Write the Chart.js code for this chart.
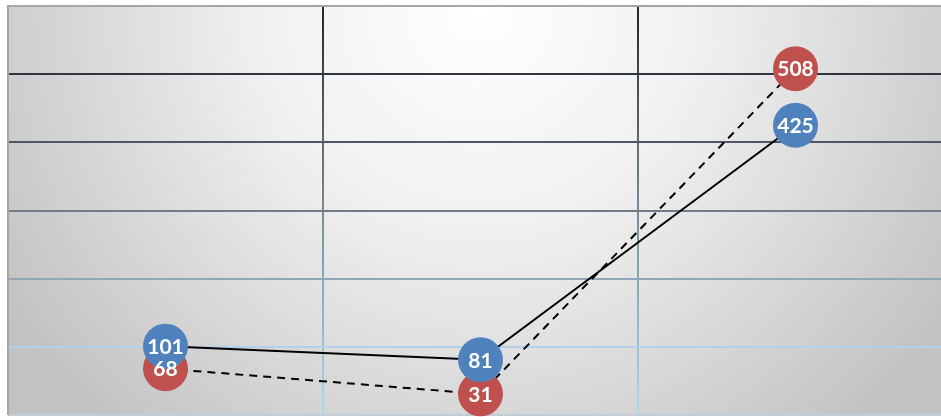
<!DOCTYPE html>
<html>
<head>
<meta charset="utf-8">
<script src="https://cdn.jsdelivr.net/npm/chart.js@4/dist/chart.umd.min.js"></script>
<style>
html,body{margin:0;padding:0;overflow:hidden;background:#ffffff;}
#wrap{position:relative;width:960px;height:417px;}
</style>
</head>
<body>
<div id="wrap"><canvas id="c"></canvas></div>
<script>
const categories = ["Category 1", "Category 2", "Category 3"];
const seriesBlue = [101, 81, 425];
const seriesRed = [68, 31, 508];
const yTicks = [0, 100, 200, 300, 400, 500, 600];

const hGridColors = {0:'#c3cdd8',100:'#b4cfe8',200:'#93a5b8',300:'#6f7d8a',400:'#4d5862',500:'#2e3740',600:'rgba(0,0,0,0)'};

const bgPlugin = {
  id: 'bg',
  beforeDraw(chart) {
    const {ctx, chartArea: a} = chart;
    ctx.save();
    const g = ctx.createRadialGradient(480, 10, 0, 480, 10, 560);
    g.addColorStop(0, '#ffffff');
    g.addColorStop(0.4, '#f0f0f0');
    g.addColorStop(1, '#c2c2c2');
    ctx.fillStyle = g;
    ctx.fillRect(a.left, a.top, a.right - a.left, a.bottom - a.top);
    ctx.restore();
  },
  afterDraw(chart) {
    const {ctx, chartArea: a} = chart;
    ctx.save();
    ctx.lineWidth = 2;
    ctx.strokeStyle = '#a6a6a6';
    ctx.beginPath();
    ctx.moveTo(a.left - 1, a.top);
    ctx.lineTo(a.right + 5, a.top);
    ctx.moveTo(a.left, a.top);
    ctx.lineTo(a.left, a.bottom);
    ctx.stroke();
    ctx.restore();
  }
};

const labelPlugin = {
  id: 'lbl',
  afterDatasetsDraw(chart) {
    const {ctx} = chart;
    ctx.save();
    ctx.fillStyle = '#ffffff';
    ctx.font = 'bold 21px Lato, "Open Sans", sans-serif';
    ctx.textAlign = 'center';
    ctx.textBaseline = 'middle';
    chart.data.datasets.forEach((ds, i) => {
      const meta = chart.getDatasetMeta(i);
      meta.data.forEach((pt, j) => {
        ctx.fillText(String(ds.data[j]), pt.x, pt.y + 1);
      });
    });
    ctx.restore();
  }
};

new Chart(document.getElementById('c'), {
  type: 'line',
  data: {
    labels: categories,
    datasets: [
      {
        label: 'Blue',
        data: seriesBlue,
        borderColor: '#000000',
        borderWidth: 2,
        pointRadius: 22.5,
        pointHoverRadius: 22.5,
        pointBorderWidth: 0,
        pointBackgroundColor: '#4f81bd',
        pointBorderColor: '#4f81bd',
        tension: 0,
        fill: false
      },
      {
        label: 'Red',
        data: seriesRed,
        borderColor: '#000000',
        borderWidth: 2,
        borderDash: [8, 6],
        pointRadius: 22.5,
        pointHoverRadius: 22.5,
        pointBorderWidth: 0,
        pointBackgroundColor: '#c0504d',
        pointBorderColor: '#c0504d',
        tension: 0,
        fill: false
      }
    ]
  },
  options: {
    responsive: true,
    maintainAspectRatio: false,
    animation: false,
    events: [],
    clip: false,
    layout: {autoPadding: false, padding: {left: 8, top: 6, right: 7, bottom: 2}},
    plugins: {legend: {display: false}, tooltip: {enabled: false}},
    scales: {
      x: {
        offset: true,
        ticks: {display: false},
        border: {display: false},
        grid: {
          offset: true,
          drawTicks: false,
          lineWidth: 2,
          color: (ctx) => {
            const chart = ctx.chart;
            const a = chart.chartArea;
            if (!a) return '#556';
            const g = chart.ctx.createLinearGradient(0, a.top, 0, a.bottom);
            g.addColorStop(0, '#1f272e');
            g.addColorStop(0.5, '#7a8c98');
            g.addColorStop(1, '#a8dcea');
            return g;
          }
        }
      },
      y: {
        min: 0,
        max: 600,
        afterBuildTicks: (scale) => { scale.ticks = yTicks.map(v => ({value: v})); },
        ticks: {display: false},
        border: {display: false},
        grid: {
          drawTicks: false,
          lineWidth: 2,
          color: (ctx) => hGridColors[ctx.tick ? ctx.tick.value : 0] || '#999'
        }
      }
    }
  },
  plugins: [bgPlugin, labelPlugin]
});
</script>
</body>
</html>
